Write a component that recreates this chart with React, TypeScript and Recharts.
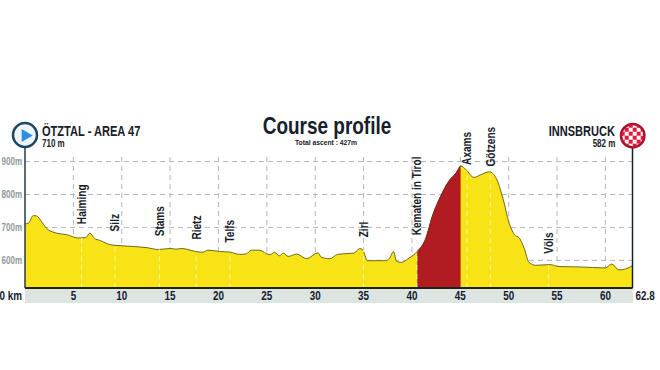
import { AreaChart, Area, XAxis, YAxis, CartesianGrid, ReferenceLine, ReferenceDot } from "recharts";

const FONT = "'Liberation Sans', sans-serif";
const INK = "#16202a";

const kms = [
  0, 0.35, 0.86, 1.2, 1.7, 2.2, 3.1, 4.3, 5.5, 6.3, 6.7, 7.2, 7.7, 8.9, 10.1, 12.5, 13.8, 15, 15.6, 16.2,
  18.1, 18.4, 18.9, 20.1, 21.2, 22.2, 22.9, 23.4, 24.2, 25.3, 25.8, 26.3, 26.7, 27.2, 28.1, 29.1, 30.3, 30.6,
  31.5, 32.3, 33.5, 34, 34.6, 34.9, 35.4, 37.3, 37.7, 38.1, 38.4, 38.9, 39.7, 40.55, 41.45, 42.1, 42.83, 43.9,
  44.55, 45.03, 45.6, 46.4, 47.1, 48, 48.7, 49.4, 50.05, 50.6, 51.1, 51.6, 52.1, 52.8, 54.3, 55.2, 57.3, 60,
  60.65, 61.4, 62.1, 62.8,
];
const elevations = [
  711, 713, 736, 735, 718, 698, 684, 678, 668, 669, 683, 666, 661, 647, 644, 639, 633, 636, 634, 636,
  625, 625, 631, 627, 625, 618, 620, 631, 631, 617, 624, 614, 622, 612, 619, 605, 623, 610,
  605, 618, 621, 622, 636, 632, 599, 599, 607, 627, 597, 594, 607, 627, 668, 733, 786, 844,
  865, 887, 875, 852, 860, 869, 850, 789, 713, 678, 668, 637, 594, 585, 587, 581, 580, 577,
  589, 571, 574, 584,
];

// red section = the climb to Axams
const climbFrom = 40.55;
const climbTo = 45.03;

const townNames = ["Haiming", "Silz", "Stams", "Rietz", "Telfs", "Zirl", "Kematen in Tirol", "Axams", "Götzens", "Völs"];
const townKm = [5.85, 9.3, 13.9, 17.7, 21.2, 35, 40.5, 45.7, 48.1, 54.1];
const townLabelElev = [710, 688, 673, 663, 654, 670, 676, 890, 885, 620];
const townGround = [668, 647, 633, 625, 625, 632, 627, 875, 869, 585];

const xTicks = [0, 5, 10, 15, 20, 25, 30, 35, 40, 45, 50, 55, 60, 62.8];
const yTicks = [600, 700, 800, 900];
const gridKm = [5, 10, 15, 20, 25, 30, 35, 40, 45, 50, 55, 60];

const data = kms.map((km, i) => ({
  km,
  elev: elevations[i],
  climb: km >= climbFrom && km <= climbTo ? elevations[i] : null,
}));

// no narrow font installed, so bold text is squeezed horizontally
const XTick = ({ x, y, payload }: any) => {
  const v = payload.value;
  const anchor = v === 0 ? "end" : v === 62.8 ? "start" : "middle";
  const px = v === 0 ? x - 3 : v === 62.8 ? x + 3 : x;
  return (
    <text
      transform={`translate(${px},${y + 4}) scale(0.76,1)`}
      textAnchor={anchor}
      fontFamily={FONT}
      fontWeight={700}
      fontSize={13}
      fill={INK}
    >
      {v === 0 ? "0 km" : v}
    </text>
  );
};

const YTick = ({ y, payload }: any) => (
  <text
    transform={`translate(22,${y}) scale(0.8,1)`}
    textAnchor="end"
    dominantBaseline="central"
    fontFamily={FONT}
    fontWeight={700}
    fontSize={10}
    fill="#8d9a9c"
  >
    {`${payload.value}m`}
  </text>
);

const townLabel = (name: string) => ({ cx, cy }: any) => (
  <text
    transform={`translate(${cx},${cy}) rotate(-90) scale(0.84,1)`}
    dominantBaseline="central"
    fontFamily={FONT}
    fontWeight={700}
    fontSize={12}
    fill={INK}
  >
    {name}
  </text>
);

const checks = [0, 1, 2, 3, 4, 5];

const Icons = () => (
  <svg width={660} height={370} style={{ position: "absolute", left: 0, top: 0, pointerEvents: "none" }}>
    <defs>
      <clipPath id="flag">
        <circle cx={632.7} cy={135.7} r={11} />
      </clipPath>
    </defs>
    <line x1={25} y1={147} x2={25} y2={288} stroke="#2a3a46" strokeWidth={1.5} />
    <line x1={632.5} y1={147} x2={632.5} y2={288} stroke={INK} strokeWidth={1.5} />
    <circle cx={25} cy={135} r={12} fill="#eef5fa" stroke="#1e4560" strokeWidth={2.5} />
    <path d="M21.7 129 L32.7 135.5 L21.7 142 Z" fill="#2c8fe6" />
    <circle cx={632.7} cy={135.7} r={11.7} fill="#fff" stroke="#a5122f" strokeWidth={2.5} />
    <g clipPath="url(#flag)">
      {checks.map((r) =>
        checks.map((c) =>
          (r + c) % 2 === 0 ? (
            <rect key={`${r}-${c}`} x={620.7 + c * 4} y={123.7 + r * 4} width={4} height={4} fill="#e2173c" />
          ) : null
        )
      )}
    </g>
  </svg>
);

const textStyle = { position: "absolute", fontFamily: FONT, fontWeight: 700, color: INK, whiteSpace: "nowrap" } as const;

export default function App() {
  return (
    <div style={{ position: "fixed", left: 0, top: 0, width: 660, height: 370, background: "#fff", overflow: "hidden" }}>
      {/* band behind the km labels */}
      <div style={{ position: "absolute", left: 25, top: 288, width: 608, height: 15, background: "#dde5e3" }} />
      <AreaChart
        width={660}
        height={370}
        data={data}
        margin={{ top: 157, right: 27.5, bottom: 62, left: 0 }}
      >
        <CartesianGrid
          stroke="#b4b8b8"
          strokeDasharray="5 4"
          horizontalValues={yTicks}
          verticalValues={gridKm}
        />
        <XAxis
          dataKey="km"
          type="number"
          domain={[0, 62.8]}
          ticks={xTicks}
          interval={0}
          height={20}
          tick={<XTick />}
          tickLine={false}
          axisLine={{ stroke: "#1c2418", strokeWidth: 2 }}
        />
        <YAxis
          domain={[516, 914]}
          ticks={yTicks}
          width={25}
          tick={<YTick />}
          tickLine={false}
          axisLine={false}
        />
        <Area
          type="monotone"
          dataKey="elev"
          fill="#f8e316"
          fillOpacity={1}
          stroke="#6e6a20"
          strokeWidth={1}
          dot={false}
          isAnimationActive={false}
        />
        <Area
          type="monotone"
          dataKey="climb"
          fill="#b01c22"
          fillOpacity={1}
          stroke="#7a2a20"
          strokeWidth={1}
          dot={false}
          isAnimationActive={false}
        />
        {townKm.map((km, i) => (
          <ReferenceLine
            key={townNames[i]}
            segment={[{ x: km, y: 516 }, { x: km, y: townGround[i] }]}
            stroke="#fdf59a"
            strokeDasharray="5 4"
          />
        ))}
        {townNames.map((name, i) => (
          <ReferenceDot
            key={name}
            x={townKm[i]}
            y={townLabelElev[i]}
            r={0}
            ifOverflow="visible"
            shape={townLabel(name)}
          />
        ))}
      </AreaChart>
      <Icons />
      <div style={{ ...textStyle, left: 0, width: 654, top: 114, textAlign: "center", fontSize: 24, lineHeight: "24px", transform: "scaleX(0.79)" }}>Course profile</div>
      <div style={{ ...textStyle, left: 0, width: 652, top: 138, textAlign: "center", fontSize: 7.5, lineHeight: "9px", transform: "scaleX(0.9)" }}>Total ascent : 427m</div>
      <div style={{ ...textStyle, left: 42, top: 124, fontSize: 14, lineHeight: "14px", transform: "scaleX(0.79)", transformOrigin: "left" }}>ÖTZTAL - AREA 47</div>
      <div style={{ ...textStyle, left: 42, top: 138, fontSize: 10, lineHeight: "11px", transform: "scaleX(0.8)", transformOrigin: "left" }}>710 m</div>
      <div style={{ ...textStyle, right: 45, top: 124, fontSize: 14, lineHeight: "14px", transform: "scaleX(0.79)", transformOrigin: "right" }}>INNSBRUCK</div>
      <div style={{ ...textStyle, right: 45, top: 138, fontSize: 10, lineHeight: "11px", transform: "scaleX(0.8)", transformOrigin: "right" }}>582 m</div>
    </div>
  );
}
